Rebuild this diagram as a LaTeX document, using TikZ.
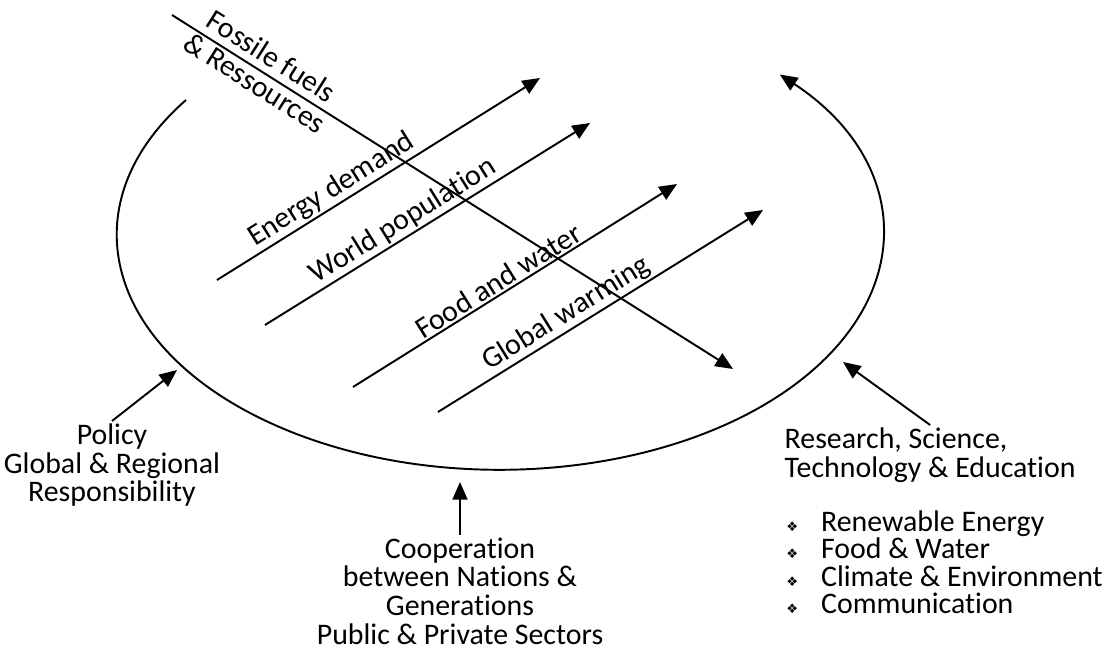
\documentclass[tikz,border=0pt]{standalone}
\usepackage{fontspec}
\setmainfont{Carlito}[Ligatures=NoCommon]
\newfontfamily\symfont{DejaVu Sans}
\usetikzlibrary{calc,arrows,arrows.meta,positioning}
\newcommand{\fieldbullet}{{\symfont\fontsize{7.5}{7.5}\selectfont ❖}\hspace{13pt}}

\begin{document}
\begin{tikzpicture}[x=0.02cm,y=-0.02cm,line width=1.1pt,>={Triangle[length=10pt,width=8.5pt]}]
\tikzstyle{txt} = [font=\fontsize{17}{16.3}\selectfont, inner sep=1pt]
\tikzstyle{trend} = [txt, sloped, above]
    \useasboundingbox (0,0) rectangle (1103,652);
    \coordinate (CycleStart) at (186,100);
    \coordinate (FossilStart) at (172,15);
    \coordinate (FossilEnd) at (733,369);
    \coordinate (EnergyStart) at (217,280);
    \coordinate (EnergyEnd) at (540,78);
    \coordinate (PopStart) at (265,325);
    \coordinate (PopEnd) at (590,123);
    \coordinate (FoodStart) at (353,387);
    \coordinate (FoodEnd) at (677,184);
    \coordinate (WarmStart) at (438,412);
    \coordinate (WarmEnd) at (763,210);
    \coordinate (PolicyTip) at (177,370);
    \coordinate (CoopTip) at (460,482);
    \coordinate (ResearchTip) at (843,362);

    \node[txt,align=center,anchor=north] (Policy) at (112,421) {Policy\\Global \& Regional\\Responsibility};
    \node[txt,align=center,anchor=north] (Coop) at (460,535) {Cooperation\\between Nations \&\\Generations\\Public \& Private Sectors};
    \node[txt,align=left,anchor=north west] (Research) at (782,425) {Research, Science,\\Technology \& Education};
    \node[txt,font=\fontsize{17}{15.6}\selectfont,align=left,below=13pt of Research.south west,anchor=north west,xshift=1pt] (Fields) {\fieldbullet Renewable Energy\\\fieldbullet Food \& Water\\\fieldbullet Climate \& Environment\\\fieldbullet Communication};

    \draw[->] (CycleStart) arc[start angle=-145, end angle=-403, x radius=383, y radius=235];
    \draw[->] (FossilStart) -- (FossilEnd) node[trend,pos=.16,above=3pt] {Fossile fuels} node[txt,sloped,below,pos=.16] {\& Ressources};
    \draw[->] (EnergyStart) -- (EnergyEnd) node[trend,pos=.38] {Energy demand};
    \draw[->] (PopStart) -- (PopEnd) node[trend,pos=.45] {World population};
    \draw[->] (FoodStart) -- (FoodEnd) node[trend,pos=.47] {Food and water};
    \draw[->] (WarmStart) -- (WarmEnd) node[trend,pos=.42] {Global warming};
    \draw[->] (Policy.north) -- (PolicyTip);
    \draw[->] (Coop.north) -- (CoopTip);
    \draw[->] (Research.north) -- (ResearchTip);
\end{tikzpicture}
\end{document}
